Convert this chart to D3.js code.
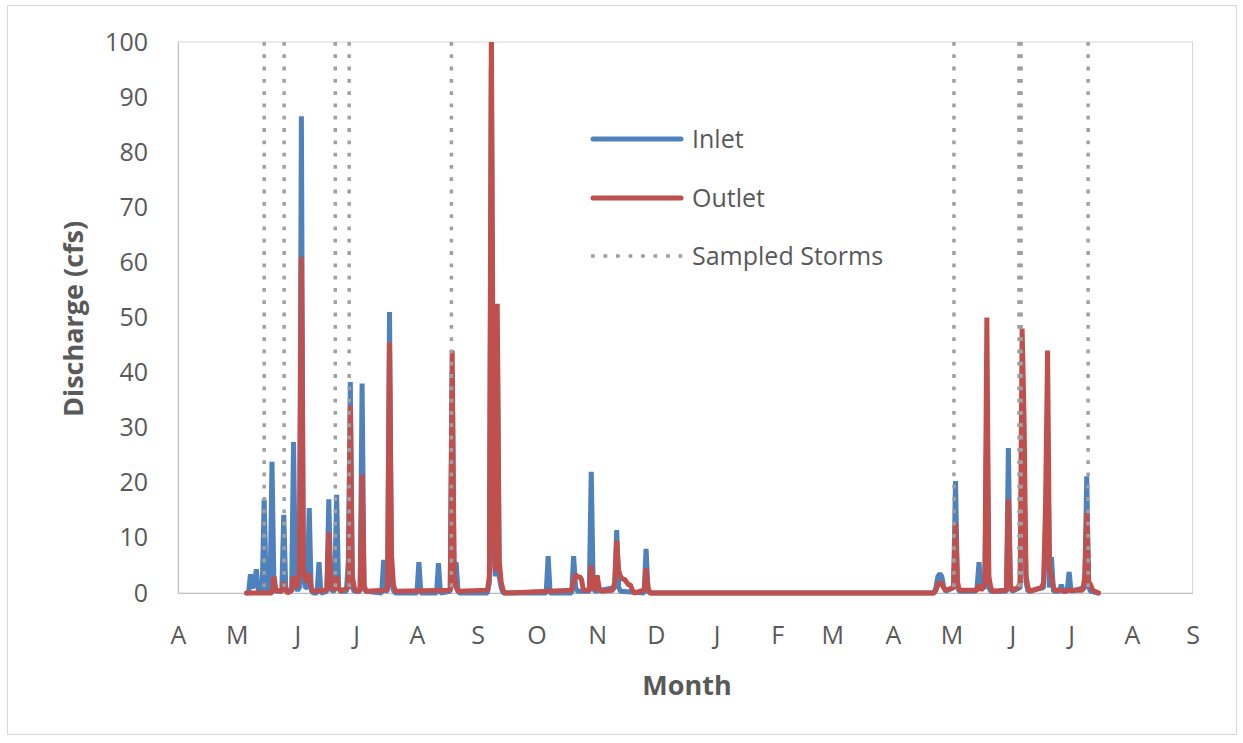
<!DOCTYPE html>
<html>
<head>
<meta charset="utf-8">
<script src="https://cdn.jsdelivr.net/npm/d3@7"></script>
<style>
  html, body { margin: 0; padding: 0; background: #fff; }
  svg { display: block; font-family: "Open Sans", "DejaVu Sans", sans-serif; }
</style>
</head>
<body>
<svg id="chart" width="1243" height="743"></svg>
<script>
// ---------------- DATA ----------------
// Day offsets counted from 2012-04-01; discharge in cfs
const startDate = "2012-04-01";
const endDate = "2013-09-01";

const inletSeries = [
  [35,0],[36,0],[37,3.4],[38,1],[39,1.5],[40,4.3],[41,0.5],[42,0.3],
  [43,0.5],[44,17],[45,1],[46,0.3],
  [47,0.3],[48,23.8],[49,1],[50,0.3],
  [53,0.3],[54,14.2],[55,1],[56,0.3],
  [58,0.3],[59,27.4],[60,1],[61,0.5],
  [62,1],[63,86.5],[64,3],[65,1],
  [66,1],[67,15.4],[68,0.5],[69,0],
  [71,0],[72,5.6],[73,0],
  [76,0.3],[77,17],[78,1],[79,0.3],
  [80,0.5],[81,17.8],[82,1],[83,0.3],
  [86,0.3],[87,6],[88,38.3],[89,1],[90,0.3],
  [93,0.3],[94,38],[95,1],[96,0.3],
  [104,0],[105,6],[106,0.3],[107,0.5],[108,51],[109,2],[110,0.5],[111,0],
  [122,0],[123,5.6],[124,0],
  [132,0],[133,5.4],[134,0],
  [139,0.3],[140,40],[141,1],[142,5.6],[143,0.3],[144,0],
  [158,0],[159,2],[160,95],[161,10],[162,3],[163,48],[164,3],[165,1],[166,0],
  [188,0],[189,6.7],[190,0],
  [201,0],[202,6.7],[203,1],[204,0.3],
  [210,0.3],[211,22],[212,1],[213,0.3],
  [223,1],[224,11.4],[225,1],[226,0.3],
  [238,0],[239,8],[240,0.3],[241,0],
  [386,0],[387,1],[388,3],[389,3.5],[390,3],[391,1],[392,0.3],
  [396,1],[397,20.3],[398,1],[399,0.3],
  [407,0.3],[408,1],[409,5.6],[410,1],
  [412,1],[413,35],[414,1],[415,0.3],
  [423,0.3],[424,26.3],[425,1],[426,0.3],
  [430,1],[431,28],[432,20],[433,2],[434,0.3],
  [442,1],[443,12],[444,30],[445,1],[446,6.5],[447,0.3],
  [450,0.3],[451,1.5],[452,0.3],
  [454,0.3],[455,3.8],[456,0.3],
  [463,1],[464,21.2],[465,1],[466,0.3],
  [470,0]
];

const outletSeries = [
  [35,0],[48,0],[49,3],[50,0.5],
  [53,0.3],[54,2],[55,0.5],[56,0],
  [58,0.5],[59,3],[60,1],[61,1.5],[62,4],[63,61],[64,4.5],[65,2.5],[66,2],[67,3.5],[68,1],[69,0.3],
  [76,0.5],[77,11],[78,1.5],[79,0.5],[80,1],[81,3],[82,1],[83,0.3],
  [87,1],[88,34],[89,3],[90,1],[91,0.3],
  [93,0.5],[94,21.5],[95,1.5],[96,0.3],
  [106,0.5],[107,1],[108,45.5],[109,7],[110,1.5],[111,0.3],
  [139,0.5],[140,44],[141,3],[142,1],[143,0.3],
  [158,0.5],[159,3],[160,104],[161,26],[162,4],[163,52.5],[164,6],[165,2],[166,0.5],[167,0],
  [201,0.5],[202,2],[203,3.4],[204,2.8],[205,3],[206,2.5],[207,0.5],
  [210,0.5],[211,5],[212,1],[213,0.5],[214,3.2],[215,1],[216,0.3],
  [222,0.5],[223,2],[224,9.5],[225,4],[226,3],[227,2.5],[228,2.5],[229,2],[230,1.5],[231,1.5],[232,0.5],[233,0],
  [238,0.5],[239,4.5],[240,1],[241,0],
  [386,0],[387,0.5],[388,1.5],[389,2],[390,1.5],[391,1],[392,0.5],
  [396,1],[397,12.7],[398,2],[399,0.5],
  [408,0.5],[409,1.5],[410,0.5],
  [411,1],[412,2],[413,50],[414,3],[415,1],[416,0.3],
  [423,0.5],[424,17],[425,1.5],[426,0.5],
  [429,1],[430,2],[431,48],[432,31.7],[433,3],[434,1],[435,0.3],
  [441,1],[442,2],[443,16.5],[444,44],[445,4],[446,3],[447,1],[448,0.5],
  [451,0.5],[452,0.3],[455,0.5],
  [462,0.5],[463,3],[464,14.5],[465,2],[466,1.5],[467,0.5],
  [470,0]
];

// Sampled storm dates (day offsets)
const stormDays = [44, 54.2, 80.3, 87.4, 139.6, 396.2, 429.4, 430.5, 464.7];

const yTicks = [0, 10, 20, 30, 40, 50, 60, 70, 80, 90, 100];
const monthLabels = ["A","M","J","J","A","S","O","N","D","J","F","M","A","M","J","J","A","S"];
const legendItems = ["Inlet", "Outlet", "Sampled Storms"];

// ---------------- CHART ----------------
const colors = { inlet: "#4F81BD", outlet: "#C0504D", storm: "#A0A0A0" };
const svg = d3.select("#chart");
const plot = { left: 178, right: 1192.5, top: 42, bottom: 593 };

const t0 = d3.utcParse("%Y-%m-%d")(startDate);
const t1 = d3.utcParse("%Y-%m-%d")(endDate);
const toDate = d => new Date(t0.getTime() + d * 864e5);

const x = d3.scaleUtc().domain([t0, t1]).range([plot.left, plot.right]);
const y = d3.scaleLinear().domain([0, 100]).range([plot.bottom, plot.top]);

// outer chart border
svg.append("rect").attr("x", 7.5).attr("y", 5.5).attr("width", 1229).attr("height", 729)
  .attr("fill", "#fff").attr("stroke", "#d9d9d9").attr("stroke-width", 1);

// plot area border
svg.append("rect").attr("x", plot.left).attr("y", plot.top)
  .attr("width", plot.right - plot.left).attr("height", plot.bottom - plot.top)
  .attr("fill", "none").attr("stroke", "#d9d9d9").attr("stroke-width", 1);

// clip for data
svg.append("defs").append("clipPath").attr("id", "clip")
  .append("rect").attr("x", plot.left).attr("y", plot.top)
  .attr("width", plot.right - plot.left).attr("height", 620 - plot.top);

// y axis
const yAxis = svg.append("g").attr("transform", `translate(${plot.left},0)`)
  .call(d3.axisLeft(y).tickValues(yTicks).tickSize(0).tickPadding(30));
yAxis.select(".domain").attr("stroke", "#bfbfbf");
yAxis.selectAll("text").attr("font-size", 25).attr("fill", "#595959")
  .attr("font-family", "'Open Sans', sans-serif");

// x axis
const xAxis = svg.append("g").attr("transform", `translate(0,${plot.bottom})`)
  .call(d3.axisBottom(x).ticks(d3.utcMonth.every(1)).tickSize(0).tickPadding(33)
    .tickFormat((d, i) => monthLabels[i]));
xAxis.select(".domain").attr("stroke", "#bfbfbf");
xAxis.selectAll("text").attr("font-size", 25).attr("fill", "#595959")
  .attr("font-family", "'Open Sans', sans-serif");

// lines
const line = d3.line().x(d => x(toDate(d[0]))).y(d => y(d[1]));
const g = svg.append("g").attr("clip-path", "url(#clip)");
g.append("path").datum(inletSeries).attr("d", line)
  .attr("fill", "none").attr("stroke", colors.inlet).attr("stroke-width", 5)
  .attr("stroke-linejoin", "bevel").attr("stroke-linecap", "round");
g.append("path").datum(outletSeries).attr("d", line)
  .attr("fill", "none").attr("stroke", colors.outlet).attr("stroke-width", 5)
  .attr("stroke-linejoin", "bevel").attr("stroke-linecap", "round");

// sampled storms
svg.append("g").selectAll("line").data(stormDays).join("line")
  .attr("x1", d => x(toDate(d))).attr("x2", d => x(toDate(d)))
  .attr("y1", y(100)).attr("y2", y(0))
  .attr("stroke", colors.storm).attr("stroke-width", 3.5)
  .attr("stroke-dasharray", "3.8,8.5");

// legend
const legY = [139, 198, 256];
const leg = svg.append("g");
leg.append("line").attr("x1", 593).attr("x2", 681).attr("y1", legY[0]).attr("y2", legY[0])
  .attr("stroke", colors.inlet).attr("stroke-width", 5).attr("stroke-linecap", "round");
leg.append("line").attr("x1", 593).attr("x2", 681).attr("y1", legY[1]).attr("y2", legY[1])
  .attr("stroke", colors.outlet).attr("stroke-width", 5).attr("stroke-linecap", "round");
leg.append("line").attr("x1", 591).attr("x2", 683).attr("y1", legY[2]).attr("y2", legY[2])
  .attr("stroke", colors.storm).attr("stroke-width", 3.5).attr("stroke-dasharray", "3.8,8.7");
leg.selectAll("text").data(legendItems).join("text")
  .attr("x", 692).attr("y", (d, i) => legY[i] + 9)
  .attr("font-size", 25).attr("fill", "#595959").text(d => d);

// axis titles
svg.append("text").attr("transform", "translate(83,319) rotate(-90)")
  .attr("text-anchor", "middle").attr("font-size", 27).attr("font-weight", "bold")
  .attr("fill", "#595959").text("Discharge (cfs)");
svg.append("text").attr("x", 687).attr("y", 695)
  .attr("text-anchor", "middle").attr("font-size", 27).attr("font-weight", "bold")
  .attr("fill", "#595959").text("Month");
</script>
</body>
</html>
